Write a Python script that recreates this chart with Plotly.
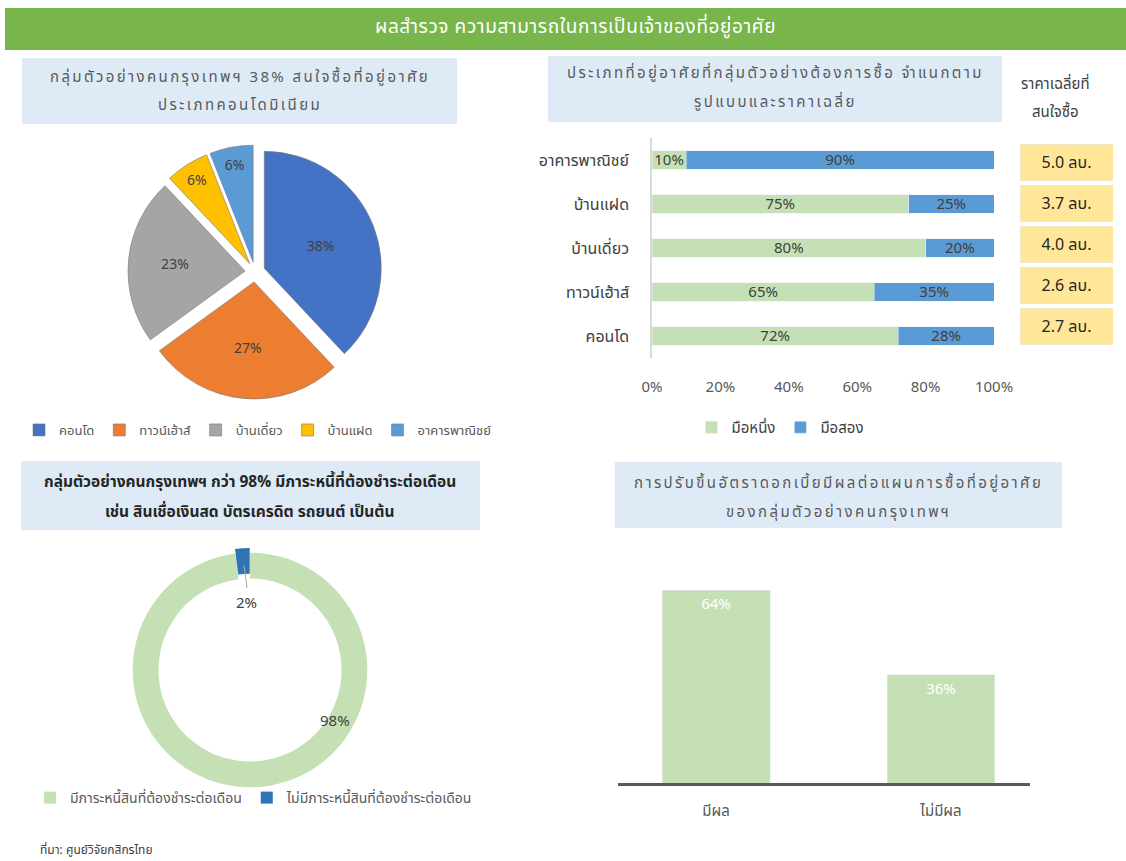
import plotly.graph_objects as go

W, H = 1126, 861
def X(px): return px / W
def Y(py): return 1 - py / H

FONT = "Tahoma, 'Noto Sans Thai', 'Leelawadee UI', sans-serif"

# ---------------- data ----------------
pie_types = ['คอนโด', 'ทาวน์เฮ้าส์', 'บ้านเดี่ยว', 'บ้านแฝด', 'อาคารพาณิชย์']
pie_share = [38, 27, 23, 6, 6]
pie_colors = ['#4472C4', '#ED7D31', '#A5A5A5', '#FFC000', '#5B9BD5']

bar_types = ['อาคารพาณิชย์', 'บ้านแฝด', 'บ้านเดี่ยว', 'ทาวน์เฮ้าส์', 'คอนโด']
first_hand = [10, 75, 80, 65, 72]
second_hand = [90, 25, 20, 35, 28]
avg_price = [5.0, 3.7, 4.0, 2.6, 2.7]
x_ticks = [0, 20, 40, 60, 80, 100]

debt_labels = ['มีภาระหนี้สินที่ต้องชำระต่อเดือน', 'ไม่มีภาระหนี้สินที่ต้องชำระต่อเดือน']
debt_share = [98, 2]

rate_labels = ['มีผล', 'ไม่มีผล']
rate_share = [64, 36]

fig = go.Figure()

# ---------------- pie ----------------
fig.add_trace(go.Pie(
    labels=pie_types, values=pie_share, sort=False, direction='clockwise', rotation=0,
    pull=[0.085] * len(pie_share),
    marker=dict(colors=pie_colors, line=dict(color='rgba(120,120,120,0.6)', width=1)),
    texttemplate='%{value}%', textposition='inside', insidetextorientation='horizontal',
    textfont=dict(size=14, color='#404040', family=FONT),
    domain=dict(x=[X(128), X(382)], y=[Y(399), Y(145)]),
    legend='legend', hoverinfo='label+percent',
))

# ---------------- stacked bar ----------------
fig.add_trace(go.Bar(
    y=bar_types, x=first_hand, orientation='h', name='มือหนึ่ง',
    marker=dict(color='#C5E0B4'), width=0.42,
    text=[f'{v}%' for v in first_hand], textposition='inside', insidetextanchor='middle',
    constraintext='none', cliponaxis=False,
    textfont=dict(size=15, color='#404040', family=FONT),
    xaxis='x2', yaxis='y2', legend='legend2',
))
fig.add_trace(go.Bar(
    y=bar_types, x=second_hand, orientation='h', name='มือสอง',
    marker=dict(color='#5B9BD5'), width=0.42,
    text=[f'{v}%' for v in second_hand], textposition='inside', insidetextanchor='middle',
    constraintext='none', cliponaxis=False,
    textfont=dict(size=15, color='#404040', family=FONT),
    xaxis='x2', yaxis='y2', legend='legend2',
))

# price boxes
fig.add_trace(go.Bar(
    y=bar_types, x=[1] * len(avg_price), orientation='h', name='ราคาเฉลี่ย',
    marker=dict(color='#FFE699'), width=0.9,
    text=[f'{v:.1f} ลบ.' for v in avg_price], textposition='inside', insidetextanchor='middle',
    constraintext='none',
    textfont=dict(size=16, color='#262626', family=FONT),
    xaxis='x4', yaxis='y4', showlegend=False, hoverinfo='skip',
))

# ---------------- donut ----------------
fig.add_trace(go.Pie(
    labels=debt_labels, values=debt_share, sort=False, direction='clockwise', rotation=0,
    hole=0.78, pull=[0, 0.04],
    marker=dict(colors=['#C5E0B4', '#2E75B6']),
    textinfo='none',
    domain=dict(x=[X(128), X(372)], y=[Y(792), Y(548)]),
    legend='legend3', hoverinfo='label+percent',
))

# ---------------- vertical bar ----------------
fig.add_trace(go.Bar(
    x=rate_labels, y=rate_share, marker=dict(color='#C5E0B4'), width=0.48,
    text=[f'{v}%' for v in rate_share], textposition='inside', insidetextanchor='end',
    constraintext='none',
    textfont=dict(size=15, color='white', family=FONT),
    xaxis='x3', yaxis='y3', showlegend=False,
))

axis_font = dict(size=15, color='#595959', family=FONT)

fig.update_layout(
    width=W, height=H, margin=dict(l=0, r=0, t=0, b=0, autoexpand=False),
    paper_bgcolor='white', plot_bgcolor='white',
    font=dict(family=FONT, color='#404040'),
    barmode='stack',
    xaxis2=dict(domain=[X(652), X(994)], range=[0, 100], anchor='y2',
                tickvals=x_ticks, ticktext=[f'{v}%' for v in x_ticks],
                showgrid=False, zeroline=False, showline=False,
                tickfont=axis_font, ticklabelstandoff=18),
    yaxis2=dict(domain=[Y(358), Y(138)], anchor='x2', type='category',
                categoryorder='array', categoryarray=bar_types, autorange='reversed',
                showline=True, linecolor='#D9D9D9', linewidth=1.5,
                showgrid=False, zeroline=False,
                tickfont=dict(size=16, color='#404040', family=FONT), ticklabelstandoff=18),
    xaxis4=dict(domain=[X(1020), X(1113)], range=[0, 1], anchor='y4', visible=False),
    yaxis4=dict(domain=[Y(347), Y(142)], anchor='x4', type='category',
                categoryorder='array', categoryarray=bar_types, autorange='reversed',
                visible=False),
    xaxis3=dict(domain=[X(618), X(1030)], range=[-0.4356, 1.3956], anchor='y3',
                showline=True, linecolor='#595959', linewidth=2.5, showgrid=False,
                tickfont=dict(size=15, color='#595959', family=FONT), ticklabelstandoff=12),
    yaxis3=dict(domain=[Y(783), Y(542)], range=[0, 80], anchor='x3', visible=False),
    legend=dict(orientation='h', x=X(258), xanchor='center', y=Y(415), yanchor='top',
                traceorder='normal',
                font=dict(size=13, color='#595959', family=FONT),
                bgcolor='rgba(0,0,0,0)'),
    legend2=dict(orientation='h', x=X(780), xanchor='center', y=Y(411), yanchor='top',
                 traceorder='normal',
                 font=dict(size=15, color='#404040', family=FONT),
                 bgcolor='rgba(0,0,0,0)'),
    legend3=dict(orientation='h', x=X(254), xanchor='center', y=Y(782), yanchor='top',
                 traceorder='normal',
                 font=dict(size=14, color='#595959', family=FONT),
                 bgcolor='rgba(0,0,0,0)'),
)

shapes = []
def box(x0, y0, x1, y1, color):
    shapes.append(dict(type='rect', xref='paper', yref='paper', x0=X(x0), x1=X(x1),
                       y0=Y(y1), y1=Y(y0), fillcolor=color, line=dict(width=0), layer='below'))
box(5, 8, 1126, 50, '#78B54A')
box(22, 58, 457, 124, '#DEEBF7')
box(548, 56, 1002, 122, '#DEEBF7')
box(21, 461, 480, 530, '#DEEBF7')
box(615, 462, 1062, 528, '#DEEBF7')
# donut leader line for small slice
shapes.append(dict(type='line', xref='paper', yref='paper', x0=X(244), y0=Y(565), x1=X(247), y1=Y(588),
                   line=dict(color='#A6A6A6', width=1)))
fig.update_layout(shapes=shapes)

ann = []
def text(x, y, t, size=15, color='#595959', bold=False, xanchor='center', spacing=0):
    if spacing:
        t = f'<span style="letter-spacing:{spacing}px">{t}</span>'
    if bold:
        t = '<b>' + t + '</b>'
    ann.append(dict(x=X(x), y=Y(y), xref='paper', yref='paper', text=t, showarrow=False,
                    xanchor=xanchor, yanchor='middle',
                    font=dict(size=size, color=color, family=FONT)))

text(575, 28, 'ผลสำรวจ ความสามารถในการเป็นเจ้าของที่อยู่อาศัย', size=19, color='white', spacing=0.6)
text(240, 77, 'กลุ่มตัวอย่างคนกรุงเทพฯ 38% สนใจซื้อที่อยู่อาศัย', spacing=2.4)
text(240, 105, 'ประเภทคอนโดมิเนียม', spacing=2.4)
text(775, 74, 'ประเภทที่อยู่อาศัยที่กลุ่มตัวอย่างต้องการซื้อ จำแนกตาม', spacing=2.4)
text(775, 102, 'รูปแบบและราคาเฉลี่ย', spacing=2.4)
text(1055, 85, 'ราคาเฉลี่ยที่', color='#404040')
text(1055, 112, 'สนใจซื้อ', color='#404040')
text(250, 482, 'กลุ่มตัวอย่างคนกรุงเทพฯ กว่า 98% มีภาระหนี้ที่ต้องชำระต่อเดือน', color='#262626', bold=True, size=15.5)
text(250, 512, 'เช่น สินเชื่อเงินสด บัตรเครดิต รถยนต์ เป็นต้น', color='#262626', bold=True, size=15.5)
text(838, 483, 'การปรับขึ้นอัตราดอกเบี้ยมีผลต่อแผนการซื้อที่อยู่อาศัย', spacing=2.4)
text(838, 512, 'ของกลุ่มตัวอย่างคนกรุงเทพฯ', spacing=2.4)
text(246, 603, f'{debt_share[1]}%', size=15, color='#404040')
text(335, 721, f'{debt_share[0]}%', size=15, color='#404040')
text(38, 850, 'ที่มา: ศูนย์วิจัยกสิกรไทย', size=12, color='#404040', xanchor='left')
fig.update_layout(annotations=ann)

fig.write_html('out.html')
